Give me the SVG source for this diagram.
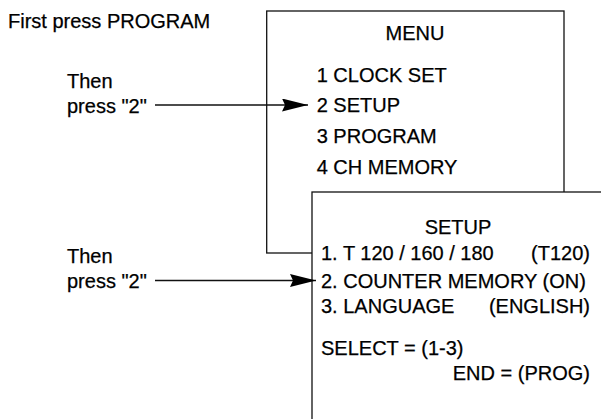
<svg xmlns="http://www.w3.org/2000/svg" width="601" height="419" viewBox="0 0 601 419">
  <defs>
    <style>
      .t { font-family: "Liberation Sans", Arial, Helvetica, sans-serif; font-size: 20px; fill: #000; stroke: #000; stroke-width: 0.25; }
      .box { fill: #fff; stroke: #111; stroke-width: 1.3; }
      .con { stroke: #111; stroke-width: 1.3; fill: none; }
    </style>
    <marker id="ah" viewBox="0 0 26 13" refX="26" refY="6.5" markerWidth="26" markerHeight="13" markerUnits="userSpaceOnUse" orient="auto">
      <path d="M0,0 L26,6.5 L0,13 L3,6.5 Z" fill="#000"/>
    </marker>
  </defs>
  <rect width="601" height="419" fill="#fff"/>

  <g id="instruction-first">
    <text class="t" x="8" y="28">First press PROGRAM</text>
  </g>
  <g id="instruction-then-1">
    <text class="t" x="67" y="87.5">Then</text>
    <text class="t" x="67" y="113">press "2"</text>
  </g>
  <g id="instruction-then-2">
    <text class="t" x="67" y="262.7">Then</text>
    <text class="t" x="67" y="288.3">press "2"</text>
  </g>

  <g id="menu-screen">
    <rect class="box" x="266.7" y="11" width="297.3" height="242"/>
    <text class="t" x="415" y="40" text-anchor="middle">MENU</text>
    <text class="t" x="316.7" y="81.5">1 CLOCK SET</text>
    <text class="t" x="316.7" y="112">2 SETUP</text>
    <text class="t" x="316.7" y="143">3 PROGRAM</text>
    <text class="t" x="316.7" y="174">4 CH MEMORY</text>
  </g>

  <g id="setup-screen">
    <rect class="box" x="312" y="192" width="400" height="300"/>
    <text class="t" x="458" y="234" text-anchor="middle">SETUP</text>
    <text class="t" x="321" y="260">1. T 120 / 160 / 180</text>
    <text class="t" x="590" y="260" text-anchor="end">(T120)</text>
    <text class="t" x="321" y="287.5">2. COUNTER MEMORY (ON)</text>
    <text class="t" x="321" y="312.5">3. LANGUAGE</text>
    <text class="t" x="590" y="312.5" text-anchor="end">(ENGLISH)</text>
    <text class="t" x="321" y="355">SELECT = (1-3)</text>
    <text class="t" x="590" y="380" text-anchor="end">END = (PROG)</text>
  </g>

  <g id="connectors">
    <line class="con" x1="155" y1="105" x2="308" y2="105" marker-end="url(#ah)"/>
    <line class="con" x1="155" y1="280.5" x2="316" y2="280.5" marker-end="url(#ah)"/>
  </g>
</svg>
